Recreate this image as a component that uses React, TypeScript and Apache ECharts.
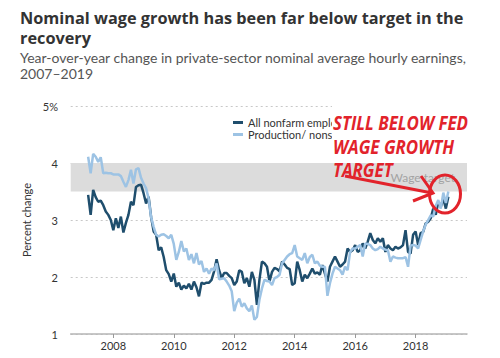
import React, { useEffect, useRef } from "react";
import * as echarts from "echarts";

const START_YEAR = 2007;
const START_MONTH = 3;

// All nonfarm employees, YoY % change, monthly from Mar 2007
const allNonfarm = [
  3.44, 3.09, 3.53, 3.40, 3.32, 3.34, 3.26, 3.15, 3.09, 3.00,
  2.82, 3.03, 2.86, 3.06, 2.78, 2.95, 3.09, 3.32, 3.26, 3.58, 3.61, 3.62,
  3.47, 3.29, 3.41, 3.05, 2.80, 2.74, 2.47, 2.52, 2.35, 2.12, 2.05, 1.92,
  2.06, 1.83, 1.90, 1.78, 1.85, 1.80, 1.88, 1.78, 1.92, 1.82, 1.66, 1.90,
  1.88, 1.90, 1.90, 1.95, 2.10, 2.31, 2.12, 1.98, 2.07, 2.07, 2.02, 1.98,
  1.86, 1.92, 2.12, 2.09, 1.89, 1.98, 1.83, 2.09, 1.95, 1.51, 1.95, 2.27,
  2.24, 2.18, 1.92, 2.09, 2.16, 2.14, 2.10, 2.27, 2.22, 2.16, 2.14, 1.86,
  1.89, 2.27, 2.12, 1.92, 2.04, 1.98, 2.06, 2.15, 2.06, 2.08, 2.04, 2.21,
  2.06, 1.92, 2.18, 2.27, 2.36, 2.27, 2.18, 2.22, 2.27, 2.50, 2.44, 2.47,
  2.56, 2.44, 2.47, 2.59, 2.50, 2.62, 2.77, 2.65, 2.59, 2.68, 2.62, 2.68,
  2.44, 2.56, 2.50, 2.47, 2.53, 2.50, 2.52, 2.56, 2.82, 2.44, 2.41, 2.74,
  2.80, 2.56, 2.77, 2.79, 2.94, 2.97, 3.03, 3.20, 3.09, 3.32, 3.23, 3.38,
  3.20, 3.41,
];

// Production / nonsupervisory employees, YoY % change, monthly from Mar 2007
const productionNonsupervisory = [
  4.11, 3.82, 4.16, 4.11, 4.02, 4.10, 3.82, 3.83, 3.82, 3.82,
  3.80, 3.80, 3.80, 3.77, 3.67, 3.58, 3.70, 3.88, 3.64, 3.89, 3.91, 3.74,
  3.64, 3.56, 3.38, 3.05, 2.88, 2.74, 2.71, 2.74, 2.75, 2.72, 2.68, 2.74,
  2.58, 2.30, 2.44, 2.63, 2.45, 2.50, 2.30, 2.40, 2.24, 2.42, 2.22, 2.28,
  2.09, 2.15, 2.06, 2.15, 2.12, 2.24, 1.96, 1.97, 1.98, 1.92, 1.85, 1.75,
  1.40, 1.55, 1.62, 1.48, 1.54, 1.45, 1.40, 1.50, 1.25, 1.30, 1.60, 1.80,
  1.95, 1.93, 1.92, 1.86, 1.98, 2.00, 2.04, 2.24, 2.30, 2.36, 2.40, 2.42,
  2.56, 2.36, 2.33, 2.30, 2.42, 2.24, 2.35, 2.39, 2.24, 2.27, 2.20, 2.18,
  2.18, 1.67, 1.89, 2.06, 2.18, 2.15, 2.12, 2.04, 2.18, 2.12, 2.44, 2.50,
  2.50, 2.53, 2.56, 2.36, 2.59, 2.58, 2.56, 2.50, 2.47, 2.49, 2.53, 2.50,
  2.48, 2.47, 2.27, 2.36, 2.34, 2.33, 2.33, 2.33, 2.35, 2.18, 2.55, 2.56,
  2.55, 2.50, 2.65, 2.80, 2.92, 3.00, 3.08, 3.06, 3.25, 3.35, 3.20, 3.48,
  3.30, 3.50,
];

const seriesNames = ["All nonfarm employees", "Production/ nonsupervisory"];
const xTickYears = [2008, 2010, 2012, 2014, 2016, 2018];
const yTickValues = [1, 2, 3, 4, 5];
const wageTargetRange = [3.5, 4];
const wageTargetLabel = "Wage target";
const annotationLines = ["STILL BELOW FED", "WAGE GROWTH", "TARGET"];

const DARK = "#1f4e6d";
const LIGHT = "#9dc3e4";
const RED = "#e2232b";
const FONT = "Lato, 'Open Sans', sans-serif";
const TITLE_FONT = "'Open Sans', Lato, sans-serif";

function toPoints(values: number[]) {
  return values.map((v, i) => {
    const m = START_MONTH - 1 + i;
    return [START_YEAR + m / 12, v];
  });
}

export default function App() {
  const ref = useRef<HTMLDivElement>(null);
  useEffect(() => {
    if (!ref.current) return;
    const chart = echarts.init(ref.current, undefined, { renderer: "svg" });
    const option: any = {
      animation: false,
      backgroundColor: "#fff",
      textStyle: { fontFamily: FONT },
      title: [
        {
          text: "Nominal wage growth has been far below target in the\nrecovery",
          left: 15,
          top: 3,
          textStyle: { fontFamily: TITLE_FONT, fontWeight: "bold", fontSize: 16.3, lineHeight: 20, color: "#333" },
        },
        {
          text: "Year-over-year change in private-sector nominal average hourly earnings,\n2007\u20132019",
          left: 15,
          top: 44,
          textStyle: { fontFamily: FONT, fontWeight: "normal", fontSize: 14, lineHeight: 16, color: "#555" },
        },
      ],
      grid: { left: 70.7, right: 33, top: 106, bottom: 24 },
      legend: {
        orient: "vertical",
        left: 228,
        top: 112,
        itemWidth: 10,
        itemHeight: 3,
        itemGap: 1,
        icon: "rect",
        textStyle: { fontFamily: FONT, fontSize: 11, color: "#333" },
        data: seriesNames,
      },
      xAxis: {
        type: "value",
        min: 2006.59,
        max: 2019.7,
        axisLine: { show: true, lineStyle: { color: "#b5b5b5", width: 1.5 } },
        axisTick: { show: true, customValues: xTickYears, length: 4, lineStyle: { color: "#999" } },
        axisLabel: {
          customValues: xTickYears,
          color: "#333",
          fontSize: 11,
          margin: 6,
          fontFamily: FONT,
          formatter: (v: number) => String(Math.round(v)),
        },
        splitLine: { show: false },
      },
      yAxis: {
        type: "value",
        min: yTickValues[0],
        max: yTickValues[yTickValues.length - 1],
        interval: 1,
        name: "Percent change",
        nameLocation: "middle",
        nameGap: 31,
        nameTextStyle: { fontFamily: FONT, fontSize: 11, color: "#333" },
        axisLine: { show: false },
        axisTick: { show: false },
        axisLabel: {
          margin: 12.7,
          color: "#333",
          fontSize: 11,
          fontFamily: FONT,
          formatter: (v: number) => (v === 5 ? "5%" : String(v)),
        },
        splitLine: { show: true, lineStyle: { type: [2, 3], color: "#c8c8c8", width: 1 } },
      },
      series: [
        {
          name: seriesNames[0],
          type: "line",
          data: toPoints(allNonfarm),
          showSymbol: false,
          lineStyle: { width: 2.5, color: DARK },
          itemStyle: { color: DARK },
          z: 3,
          markArea: {
            silent: true,
            itemStyle: { color: "#dcdcdc" },
            label: {
              show: true,
              position: "insideRight",
              color: "#a3a3a3",
              fontSize: 12,
              fontFamily: FONT,
              offset: [-7, 0],
            },
            data: [[{ yAxis: wageTargetRange[0], name: wageTargetLabel }, { yAxis: wageTargetRange[1] }]],
          },
        },
        {
          name: seriesNames[1],
          type: "line",
          data: toPoints(productionNonsupervisory),
          showSymbol: false,
          lineStyle: { width: 2.5, color: LIGHT },
          itemStyle: { color: LIGHT },
          z: 4,
        },
      ],
      graphic: [
        { type: "rect", z: 100, shape: { x: 332, y: 98, width: 160, height: 65 }, style: { fill: "#fff" } },
        ...annotationLines.map((t, i) => ({
          type: "text",
          z: 101,
          x: 333,
          y: 123 + i * 23.5,
          scaleX: 0.89,
          style: { text: t, fill: RED, font: "italic bold 19px 'Open Sans'", verticalAlign: "middle", textAlign: "left" },
        })),
        {
          type: "polyline",
          z: 102,
          shape: { points: [[345, 176], [432, 193]] },
          style: { stroke: RED, lineWidth: 3, fill: "none" },
        },
        {
          type: "polyline",
          z: 102,
          shape: { points: [[421, 176], [433, 193], [413, 201]] },
          style: { stroke: RED, lineWidth: 3, fill: "none" },
        },
        {
          type: "ellipse",
          z: 102,
          shape: { cx: 445, cy: 194, rx: 15.5, ry: 19 },
          style: { stroke: RED, lineWidth: 3, fill: "none" },
        },
      ],
    };
    chart.setOption(option);
    return () => chart.dispose();
  }, []);
  return <div ref={ref} style={{ width: 500, height: 358, position: "absolute", left: 0, top: 0 }} />;
}
